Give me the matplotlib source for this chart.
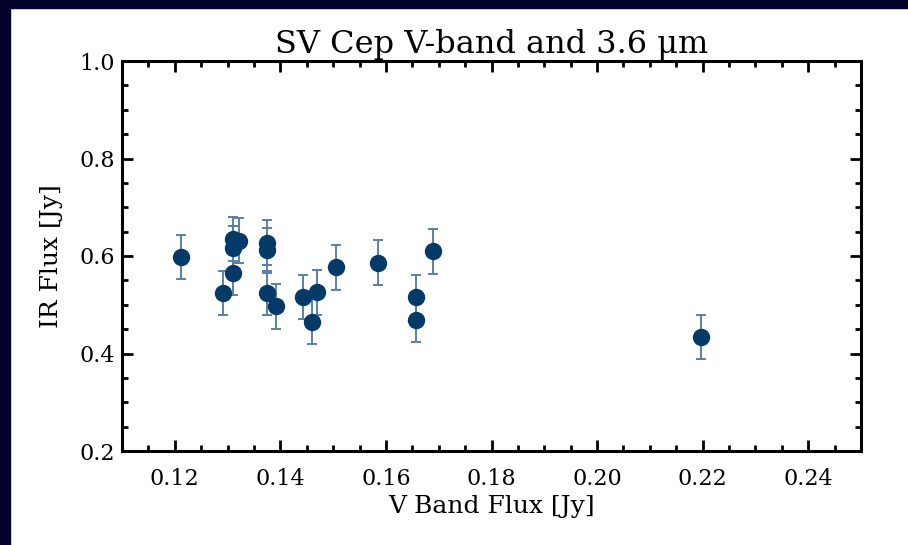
import numpy as np
import matplotlib
matplotlib.use("Agg")
import matplotlib.pyplot as plt
from matplotlib.patches import Rectangle
from matplotlib.ticker import MultipleLocator

# V band flux [Jy]
v_flux = [0.1211, 0.1292, 0.1311, 0.1311, 0.1321, 0.1311, 0.1375, 0.1375, 0.1374, 0.1391,
          0.1442, 0.1470, 0.1460, 0.1506, 0.1585, 0.1690, 0.1657, 0.1657, 0.2196]
# IR (3.6 um) flux [Jy]
ir_flux = [0.598, 0.524, 0.565, 0.635, 0.631, 0.616, 0.627, 0.612, 0.524, 0.497,
           0.516, 0.526, 0.465, 0.577, 0.586, 0.610, 0.516, 0.469, 0.434]
ir_err = [0.046, 0.046, 0.046, 0.046, 0.046, 0.046, 0.046, 0.046, 0.046, 0.046,
          0.045, 0.046, 0.046, 0.046, 0.046, 0.046, 0.046, 0.046, 0.046]

plt.rcParams['font.family'] = ['DejaVu Serif']
fig = plt.figure(figsize=(9.08, 5.45), dpi=100)
fig.patch.set_facecolor('white')
# dark frame on top and left edge
fig.patches.append(Rectangle((0, 1 - 8/545), 1, 8/545, transform=fig.transFigure,
                             color='#03022a', zorder=-1))
fig.patches.append(Rectangle((0, 0), 10/908, 1, transform=fig.transFigure,
                             color='#03022a', zorder=-1))

ax = fig.add_axes([122/908, 1 - 451/545, (861 - 122)/908, (451 - 61)/545])
ax.errorbar(v_flux, ir_flux, yerr=ir_err, fmt='none', ecolor='#5a80a2',
            elinewidth=1.4, capsize=3.5, capthick=1.4, zorder=2)
ax.plot(v_flux, ir_flux, 'o', color='#053a68', markersize=11.5, zorder=3)

ax.set_xlim(0.11, 0.25)
ax.set_ylim(0.2, 1.0)
ax.xaxis.set_major_locator(MultipleLocator(0.02))
ax.xaxis.set_minor_locator(MultipleLocator(0.005))
ax.yaxis.set_major_locator(MultipleLocator(0.2))
ax.yaxis.set_minor_locator(MultipleLocator(0.05))
ax.xaxis.set_major_formatter(matplotlib.ticker.FormatStrFormatter('%.2f'))
ax.yaxis.set_major_formatter(matplotlib.ticker.FormatStrFormatter('%.1f'))
ax.tick_params(which='both', direction='in', top=True, right=True, width=2,
               labelsize=16, colors='black')
ax.tick_params(which='major', length=8)
ax.tick_params(which='minor', length=4)
ax.tick_params(axis='x', which='major', pad=12)
ax.tick_params(axis='y', which='major', pad=5)
for s in ax.spines.values():
    s.set_linewidth(2.2)

ax.set_title('SV Cep V-band and 3.6 \u03bcm', fontsize=23, pad=6)
ax.set_xlabel('V Band Flux [Jy]', fontsize=18, labelpad=4)
ax.set_ylabel('IR Flux [Jy]', fontsize=18, labelpad=12)

fig.savefig('out.png', dpi=100)
